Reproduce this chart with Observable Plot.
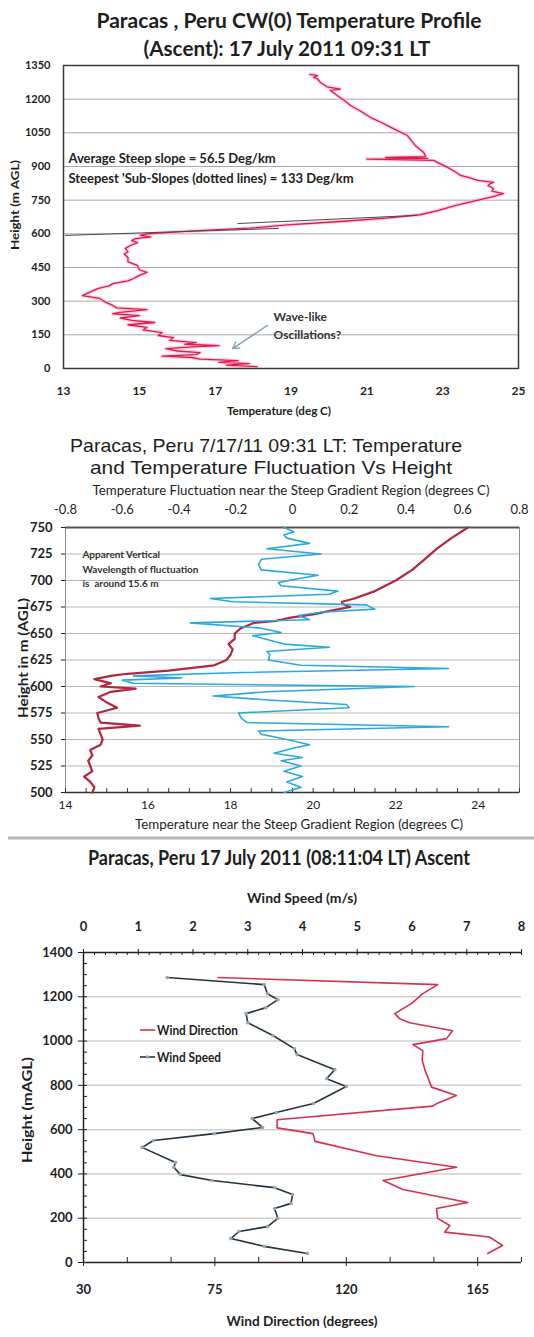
<!DOCTYPE html>
<html>
<head>
<meta charset="utf-8">
<script src="https://cdn.jsdelivr.net/npm/d3@7"></script>
<script src="https://cdn.jsdelivr.net/npm/@observablehq/plot@0.6"></script>
<style>
html,body{margin:0;padding:0;background:#fff;}
#root{position:relative;width:534px;height:1337px;overflow:hidden;background:#fff;}
#overlay{position:absolute;left:0;top:0;pointer-events:none;}
</style>
</head>
<body>
<div id="root">
<svg id="overlay" width="534" height="1337" font-family="Lato, 'Open Sans', sans-serif" fill="#1e1e1e">
  <text x="289" y="28" text-anchor="middle" font-size="20" font-weight="bold" textLength="385" lengthAdjust="spacingAndGlyphs">Paracas , Peru  CW(0) Temperature  Profile</text>
  <text x="287" y="56" text-anchor="middle" font-size="20" font-weight="bold" textLength="287" lengthAdjust="spacingAndGlyphs">(Ascent): 17 July 2011 09:31 LT</text>
  <text x="279" y="415" text-anchor="middle" font-size="12" font-weight="bold" textLength="104" lengthAdjust="spacingAndGlyphs">Temperature (deg C)</text>
  <text transform="translate(19,205) rotate(-90)" text-anchor="middle" font-size="12" font-weight="bold" textLength="90" lengthAdjust="spacingAndGlyphs">Height (m AGL)</text>

  <text x="266" y="452" text-anchor="middle" font-size="19" font-family="'Liberation Sans', Arial, sans-serif" textLength="392" lengthAdjust="spacingAndGlyphs">Paracas, Peru 7/17/11 09:31 LT: Temperature</text>
  <text x="271" y="474" text-anchor="middle" font-size="19" font-family="'Liberation Sans', Arial, sans-serif" textLength="362" lengthAdjust="spacingAndGlyphs">and Temperature  Fluctuation Vs Height</text>
  <text x="291" y="495" text-anchor="middle" font-size="14" textLength="397" lengthAdjust="spacingAndGlyphs">Temperature Fluctuation near the Steep Gradient Region (degrees C)</text>
  <text x="299" y="829" text-anchor="middle" font-size="13" textLength="328" lengthAdjust="spacingAndGlyphs">Temperature near the Steep Gradient Region (degrees C)</text>
  <text transform="translate(28,658) rotate(-90)" text-anchor="middle" font-size="14" font-weight="bold" textLength="120" lengthAdjust="spacingAndGlyphs">Height in m (AGL)</text>
  <line x1="8" x2="534" y1="838" y2="838" stroke="#b8b8b8" stroke-width="3"/>

  <text x="279" y="865" text-anchor="middle" font-size="20" font-weight="bold" textLength="382" lengthAdjust="spacingAndGlyphs">Paracas, Peru 17 July 2011 (08:11:04 LT) Ascent</text>
  <text x="302" y="903" text-anchor="middle" font-size="14" font-weight="bold" textLength="110" lengthAdjust="spacingAndGlyphs">Wind Speed (m/s)</text>
  <text x="302" y="1326" text-anchor="middle" font-size="14" font-weight="bold" textLength="151" lengthAdjust="spacingAndGlyphs">Wind Direction (degrees)</text>
  <text transform="translate(32,1110) rotate(-90)" text-anchor="middle" font-size="14" font-weight="bold" textLength="106" lengthAdjust="spacingAndGlyphs">Height (mAGL)</text>

  <line x1="140" x2="155" y1="1030" y2="1030" stroke="#d7304f" stroke-width="1.6"/>
  <text x="157" y="1034.5" font-size="13" font-weight="bold" textLength="81" lengthAdjust="spacingAndGlyphs">Wind Direction</text>
  <line x1="140" x2="155" y1="1057" y2="1057" stroke="#253540" stroke-width="1.6"/>
  <circle cx="147.5" cy="1057" r="1.8" fill="#9aa5aa"/>
  <text x="157" y="1061.5" font-size="13" font-weight="bold" textLength="64" lengthAdjust="spacingAndGlyphs">Wind Speed</text>
</svg>
</div>
<script>
// ---------- Panel 1: CW(0) temperature profile ----------
const p1TempTicks = [13, 15, 17, 19, 21, 23, 25];
const p1HeightTicks = [0, 150, 300, 450, 600, 750, 900, 1050, 1200, 1350];
const p1Height = [8,15,22,27,35,42,49,55,62,71,78,89,96,102,108,115,125,138,147,160,172,183,195,205,214,225,236,244,250,262,270,281,296,312,325,340,356,368,378,390,401,415,428,440,459,475,495,510,520,535,548,561,570,579,586,593,600,612,625,640,655,670,685,705,725,745,765,779,790,802,815,824,829,838,850,860,880,896,915,927,933,936,940,944,962,990,1010,1038,1069,1095,1118,1145,1172,1195,1216,1239,1245,1255,1274,1290,1297,1305,1310];
const p1Temp = [18.1,17.3,17.9,17.1,17.6,16.6,16.4,15.6,16.5,16.6,16.0,15.7,16.4,17.1,16.2,16.5,15.8,15.9,15.5,15.6,15.1,15.2,14.7,15.4,14.8,14.5,15.0,14.3,14.5,15.2,14.4,14.3,14.1,13.95,13.5,13.7,13.9,14.2,14.3,14.7,14.85,15.0,15.2,15.0,14.95,14.7,14.7,14.6,14.7,14.63,14.77,14.95,14.8,14.9,15.3,15.03,15.2,16.3,17.9,18.9,20.3,21.5,22.4,22.9,23.3,23.8,24.3,24.6,24.3,24.34,24.2,24.26,24.34,23.92,23.7,23.47,23.3,23.13,22.9,22.76,21.0,22.6,21.5,22.55,22.5,22.3,22.2,22.07,21.7,21.4,21.1,20.85,20.57,20.4,20.22,20.04,20.3,19.95,19.78,19.7,19.6,19.7,19.5];
const p1SubSlope1Temp = [13.05, 18.67];
const p1SubSlope1Height = [593, 624];
const p1SubSlope2Temp = [17.6, 22.3];
const p1SubSlope2Height = [646, 682];
const p1SlopeNoteText = ["Average Steep slope = 56.5 Deg/km", "Steepest 'Sub-Slopes (dotted lines) = 133 Deg/km"];
const p1SlopeNoteTemp = [13.13, 13.13];
const p1SlopeNoteHeight = [936, 847];
const p1WaveNoteText = ["Wave-like", "Oscillations?"];
const p1WaveNoteTemp = [18.54, 18.54];
const p1WaveNoteHeight = [227, 147];
const p1ArrowFrom = [18.38, 192];
const p1ArrowTo = [17.46, 89];

// ---------- Panel 2: temperature and fluctuation ----------
const p2TempTicks = [14, 16, 18, 20, 22, 24];
const p2TempMinor = [14,14.5,15,15.5,16,16.5,17,17.5,18,18.5,19,19.5,20,20.5,21,21.5,22,22.5,23,23.5,24,24.5,25];
const p2FlucTicks = [-0.8, -0.6, -0.4, -0.2, 0, 0.2, 0.4, 0.6, 0.8];
const p2HeightTicks = [500, 525, 550, 575, 600, 625, 650, 675, 700, 725, 750];
const p2TempHeight = [500,505,510,515,520,525,530,535,540,545,550,555,560,563,566,570,575,580,585,590,595,598,600,603,607,610,612,615,620,625,630,635,640,645,650,655,660,662,665,668,672,675,678,680,683,690,700,710,720,730,740,750];
const p2Temp = [14.65,14.7,14.6,14.45,14.65,14.6,14.55,14.65,14.6,14.85,14.9,14.85,14.8,15.8,14.85,14.8,14.77,15.25,15.0,14.8,15.1,15.7,14.85,15.1,14.7,15.1,15.5,16.5,17.6,17.9,18.0,18.05,17.95,18.1,18.1,18.25,18.56,19.1,19.46,20.0,20.5,20.9,20.7,20.7,21.0,21.5,22.0,22.4,22.7,23.0,23.35,23.75];
const p2FlucHeight = [500,505,510,515,520,525,530,533,537,542,545,550,555,558,562,566,570,575,580,583,587,591,595,600,603,606,608,610,613,617,620,625,630,633,637,640,645,648,651,655,660,663,667,670,673,677,680,683,687,690,695,698,701,705,710,715,720,725,730,735,740,743,746,750];
const p2Fluc = [-0.03,0.03,-0.02,0.035,-0.03,0.03,-0.04,0.035,-0.065,0.005,0.06,-0.02,-0.11,-0.12,0.55,-0.16,-0.18,-0.19,0.2,0.19,-0.07,-0.28,-0.09,0.43,-0.56,-0.6,-0.39,-0.56,-0.21,0.55,0.03,-0.085,-0.08,-0.09,0.13,-0.03,-0.1,-0.14,-0.04,-0.11,-0.36,0.06,0.02,0.1,0.29,0.26,-0.21,-0.29,0.13,0.16,-0.04,-0.05,0.005,0.09,-0.11,-0.12,-0.11,0.1,-0.09,0.06,-0.02,-0.03,0.005,-0.03];
const p2NoteText = ["Apparent Vertical", "Wavelength of fluctuation", "is  around 15.6 m"];
const p2NoteTemp = [14.41, 14.41, 14.41];
const p2NoteHeight = [724.5, 710.4, 697.2];

// ---------- Panel 3: wind profile ----------
const p3DirTicks = [30, 75, 120, 165];
const p3DirMinor = [30,45,60,75,90,105,120,135,150,165,180];
const p3SpeedTicks = [0, 1, 2, 3, 4, 5, 6, 7, 8];
const p3SpeedMinor = [0,0.2,0.4,0.6,0.8,1,1.2,1.4,1.6,1.8,2,2.2,2.4,2.6,2.8,3,3.2,3.4,3.6,3.8,4,4.2,4.4,4.6,4.8,5,5.2,5.4,5.6,5.8,6,6.2,6.4,6.6,6.8,7,7.2,7.4,7.6,7.8,8];
const p3HeightTicks = [0, 200, 400, 600, 800, 1000, 1200, 1400];
const p3HeightMinor = [0,50,100,150,200,250,300,350,400,450,500,550,600,650,700,750,800,850,900,950,1000,1050,1100,1150,1200,1250,1300,1350,1400];
const p3GridTicks = [200, 400, 600, 800, 1000, 1200];
const p3SpeedHeight = [1287,1255,1214,1187,1151,1124,1083,1025,966,939,871,830,795,718,677,650,610,582,551,520,452,430,397,370,338,307,267,244,199,162,140,108,73,41];
const p3Speed = [1.53,3.3,3.36,3.55,3.33,2.97,3.0,3.46,3.85,3.9,4.59,4.44,4.8,4.2,3.52,3.08,3.27,2.39,1.28,1.07,1.68,1.65,1.77,2.35,3.49,3.82,3.79,3.49,3.55,3.36,2.84,2.69,3.3,4.09];
const p3DirHeight = [1287,1255,1214,1170,1124,1101,1083,1047,1011,984,957,912,871,792,754,718,706,645,608,582,547,482,430,370,330,271,244,199,167,137,115,77,41];
const p3Dir = [76.1,151.3,146.2,142.4,136.6,138.3,141.7,156.4,154.3,142.8,146.2,146.0,146.9,149.2,157.7,151.0,149.6,96.3,96.3,108.6,109.3,130.4,157.8,132.6,139.4,161.6,150.9,151.3,155.4,153.7,169.0,173.5,168.4];

// ---------- build ----------
const root = document.getElementById("root");
const overlay = document.getElementById("overlay");
const fmt = d => String(d);
const baseStyle = {background: "transparent", fontFamily: "Lato, 'Open Sans', sans-serif", color: "#1e1e1e", overflow: "visible"};
function place(svg, top) {
  svg.style.position = "absolute";
  svg.style.left = "0px";
  svg.style.top = top + "px";
  root.insertBefore(svg, overlay);
}

// Panel 1
const p1Data = p1Height.map((h, i) => ({h, t: p1Temp[i]}));
const p1Sub1 = p1SubSlope1Temp.map((t, i) => ({t, h: p1SubSlope1Height[i]}));
const p1Sub2 = p1SubSlope2Temp.map((t, i) => ({t, h: p1SubSlope2Height[i]}));
const p1SlopeNotes = p1SlopeNoteText.map((label, i) => ({label, t: p1SlopeNoteTemp[i], h: p1SlopeNoteHeight[i]}));
const p1WaveNotes = p1WaveNoteText.map((label, i) => ({label, t: p1WaveNoteTemp[i], h: p1WaveNoteHeight[i]}));
const p1 = Plot.plot({
  width: 534, height: 375,
  marginTop: 10, marginBottom: 62, marginLeft: 63, marginRight: 16,
  style: baseStyle,
  x: {domain: [13, 25]},
  y: {domain: [0, 1350]},
  marks: [
    Plot.gridY(p1HeightTicks, {stroke: "#a8a8a8", strokeOpacity: 1}),
    Plot.line(p1Data, {x: "t", y: "h", stroke: "#f7b3c6", strokeWidth: 3.5, strokeOpacity: 0.6}),
    Plot.line(p1Data, {x: "t", y: "h", stroke: "#e5184c", strokeWidth: 1.3}),
    Plot.line(p1Sub1, {x: "t", y: "h", stroke: "#4a4a4a", strokeWidth: 1}),
    Plot.line(p1Sub2, {x: "t", y: "h", stroke: "#4a4a4a", strokeWidth: 1}),
    Plot.frame({stroke: "#3a3a3a", strokeWidth: 1.5}),
    Plot.axisX(p1TempTicks, {anchor: "bottom", tickSize: 0, tickPadding: 18, fontSize: 12, fontWeight: "bold", tickFormat: fmt, label: null}),
    Plot.axisY(p1HeightTicks, {anchor: "left", tickSize: 0, tickPadding: 13, fontSize: 11, fontWeight: "bold", tickFormat: fmt, label: null}),
    Plot.text(p1SlopeNotes, {x: "t", y: "h", text: "label", textAnchor: "start", fontSize: 13, fontWeight: "bold", fill: "#222"}),
    Plot.text(p1WaveNotes, {x: "t", y: "h", text: "label", textAnchor: "start", fontSize: 12, fontWeight: "bold", fill: "#333"}),
    Plot.arrow([{x1: p1ArrowFrom[0], y1: p1ArrowFrom[1], x2: p1ArrowTo[0], y2: p1ArrowTo[1]}], {x1: "x1", y1: "y1", x2: "x2", y2: "y2", stroke: "#8ea3bb", strokeWidth: 1.5, headLength: 7})
  ]
});
place(p1, 55);

// Panel 2 (bottom axis: temperature)
const p2TempData = p2TempHeight.map((h, i) => ({h, t: p2Temp[i]}));
const p2FlucData = p2FlucHeight.map((h, i) => ({h, f: p2Fluc[i]}));
const p2Notes = p2NoteText.map((label, i) => ({label, t: p2NoteTemp[i], h: p2NoteHeight[i]}));
const p2a = Plot.plot({
  width: 534, height: 360,
  marginTop: 47, marginBottom: 48, marginLeft: 65, marginRight: 15,
  style: baseStyle,
  x: {domain: [14, 25]},
  y: {domain: [500, 750]},
  marks: [
    Plot.gridY(p2HeightTicks, {stroke: "#b8b8b8", strokeOpacity: 1}),
    Plot.frame({stroke: "#8a8a8a", strokeWidth: 1}),
    Plot.ruleY([500], {stroke: "#333", strokeWidth: 1.5}),
    Plot.tickX(p2TempMinor, {x: d => d, insetTop: 261, stroke: "#333"}),
    Plot.axisX(p2TempTicks, {anchor: "bottom", tickSize: 0, tickPadding: 8, fontSize: 12, tickFormat: fmt, label: null}),
    Plot.axisY(p2HeightTicks, {anchor: "left", tickSize: 4, tickPadding: 9, fontSize: 13, fontWeight: "bold", tickFormat: fmt, label: null}),
    Plot.line(p2TempData, {x: "t", y: "h", stroke: "#b2273d", strokeWidth: 2.2}),
    Plot.text(p2Notes, {x: "t", y: "h", text: "label", textAnchor: "start", fontSize: 10, fontWeight: "bold", fill: "#333"})
  ]
});
place(p2a, 480);

// Panel 2 (top axis: fluctuation)
const p2b = Plot.plot({
  width: 534, height: 360,
  marginTop: 47, marginBottom: 48, marginLeft: 65, marginRight: 15,
  style: baseStyle,
  x: {domain: [-0.8, 0.8]},
  y: {domain: [500, 750], axis: null},
  marks: [
    Plot.ruleY([750], {stroke: "#555", strokeWidth: 2}),
    Plot.axisX(p2FlucTicks, {anchor: "top", tickSize: 0, tickPadding: 14, fontSize: 13, tickFormat: fmt, label: null}),
    Plot.line(p2FlucData, {x: "f", y: "h", stroke: "#29a9e0", strokeWidth: 1.6})
  ]
});
place(p2b, 480);

// Panel 3 (bottom axis: wind direction)
const p3DirData = p3DirHeight.map((h, i) => ({h, d: p3Dir[i]}));
const p3SpeedData = p3SpeedHeight.map((h, i) => ({h, s: p3Speed[i]}));
const p3a = Plot.plot({
  width: 534, height: 457,
  marginTop: 72, marginBottom: 75, marginLeft: 83, marginRight: 13,
  style: baseStyle,
  x: {domain: [30, 180]},
  y: {domain: [0, 1400]},
  marks: [
    Plot.gridY(p3GridTicks, {stroke: "#cfcfcf", strokeOpacity: 1, strokeWidth: 1.5}),
    Plot.ruleX([30], {stroke: "#222", strokeWidth: 1.5}),
    Plot.ruleY([0], {stroke: "#222", strokeWidth: 1.5}),
    Plot.tickX(p3DirMinor, {x: d => d, insetTop: 305, stroke: "#222"}),
    Plot.tickY(p3HeightMinor, {y: d => d, insetRight: 434, stroke: "#222"}),
    Plot.axisX(p3DirTicks, {anchor: "bottom", tickSize: 4, tickPadding: 18, fontSize: 13, fontWeight: "bold", tickFormat: fmt, label: null}),
    Plot.axisY(p3HeightTicks, {anchor: "left", tickSize: 5, tickPadding: 6, fontSize: 13, fontWeight: "bold", tickFormat: fmt, label: null}),
    Plot.line(p3DirData, {x: "d", y: "h", stroke: "#d7304f", strokeWidth: 1.6})
  ]
});
place(p3a, 880);

// Panel 3 (top axis: wind speed)
const p3b = Plot.plot({
  width: 534, height: 457,
  marginTop: 72, marginBottom: 75, marginLeft: 83, marginRight: 13,
  style: baseStyle,
  x: {domain: [0, 8]},
  y: {domain: [0, 1400], axis: null},
  marks: [
    Plot.ruleY([1400], {stroke: "#222", strokeWidth: 1.5}),
    Plot.tickX(p3SpeedMinor, {x: d => d, insetBottom: 307, stroke: "#222"}),
    Plot.axisX(p3SpeedTicks, {anchor: "top", tickSize: 4, tickPadding: 18, fontSize: 13, fontWeight: "bold", tickFormat: fmt, label: null}),
    Plot.line(p3SpeedData, {x: "s", y: "h", stroke: "#253540", strokeWidth: 1.6}),
    Plot.dot(p3SpeedData, {x: "s", y: "h", r: 1.8, fill: "#9aa5aa"})
  ]
});
place(p3b, 880);
</script>
</body>
</html>
